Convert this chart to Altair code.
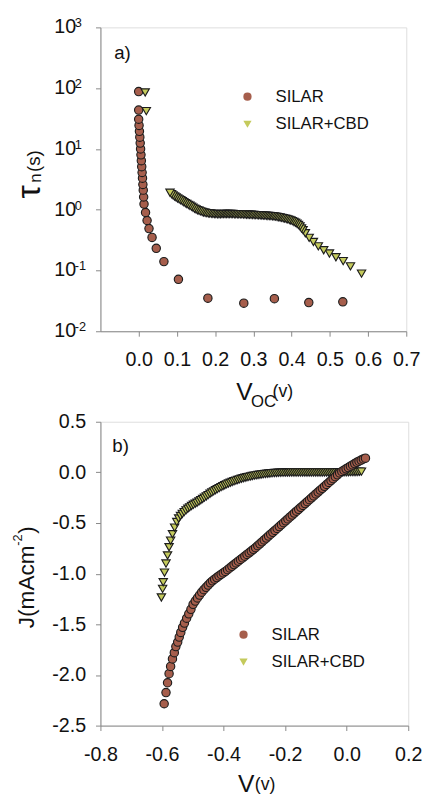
import altair as alt
import pandas as pd

FONT = "Liberation Sans"

# ---------------- panel a) : tau_n vs Voc ----------------
a_silar_voc = [0.534, 0.445, 0.355, 0.275, 0.181, 0.104, 0.066, 0.046, 0.035, 0.027,
               0.022, 0.018, 0.014, 0.013, 0.012, 0.011, 0.010, 0.009, 0.008, 0.007,
               0.006, 0.005, 0.004, 0.003, 0.002, 0.001, 0.000, 0.000, 0.000]
a_silar_tau = [0.0305, 0.0297, 0.0344, 0.029, 0.035, 0.0716, 0.140, 0.232, 0.350, 0.489,
               0.665, 0.90, 1.24, 1.62, 2.1, 2.6, 3.3, 4.1, 5.1, 6.4,
               8.0, 10.0, 12.5, 15.6, 19.5, 24.4, 30.8, 43.6, 88.0]

a_cbd_voc = [0.583, 0.554, 0.535, 0.516, 0.499, 0.484, 0.470, 0.457, 0.446, 0.436,
             0.430, 0.426, 0.422, 0.418, 0.414, 0.410, 0.406, 0.402, 0.398, 0.394,
             0.390, 0.386, 0.382, 0.378, 0.374, 0.370, 0.366, 0.362, 0.358, 0.354,
             0.350, 0.346, 0.342, 0.338, 0.334, 0.330, 0.326, 0.322, 0.318, 0.314,
             0.310, 0.306, 0.302, 0.298, 0.294, 0.290, 0.286, 0.282, 0.278, 0.274,
             0.270, 0.266, 0.262, 0.258, 0.254, 0.250, 0.246, 0.242, 0.238, 0.234,
             0.230, 0.226, 0.222, 0.218, 0.214, 0.210, 0.206, 0.202, 0.198, 0.194,
             0.190, 0.186, 0.182, 0.178, 0.174, 0.170, 0.166, 0.162, 0.158, 0.154,
             0.150, 0.146, 0.142, 0.138, 0.134, 0.130, 0.126, 0.122, 0.118, 0.114,
             0.110, 0.106, 0.102, 0.098, 0.094, 0.090, 0.086, 0.082, 0.020, 0.017]
a_cbd_tau = [0.089, 0.117, 0.143, 0.165, 0.190, 0.215, 0.250, 0.295, 0.345, 0.41,
             0.46, 0.49, 0.53, 0.56, 0.59, 0.61, 0.63, 0.65, 0.665, 0.68,
             0.695, 0.705, 0.715, 0.725, 0.735, 0.745, 0.755, 0.76, 0.77, 0.775,
             0.78, 0.785, 0.79, 0.79, 0.795, 0.80, 0.80, 0.805, 0.81, 0.81,
             0.815, 0.815, 0.82, 0.82, 0.825, 0.825, 0.83, 0.83, 0.835, 0.835,
             0.84, 0.84, 0.84, 0.845, 0.845, 0.845, 0.85, 0.85, 0.85, 0.85,
             0.85, 0.85, 0.85, 0.85, 0.845, 0.845, 0.845, 0.85, 0.85, 0.855,
             0.86, 0.865, 0.87, 0.88, 0.89, 0.90, 0.92, 0.94, 0.96, 0.98,
             1.01, 1.04, 1.08, 1.12, 1.16, 1.20, 1.24, 1.28, 1.33, 1.38,
             1.43, 1.48, 1.53, 1.59, 1.65, 1.72, 1.80, 1.90, 42.0, 85.0]

# ---------------- panel b) : J vs V ----------------
b_silar_v = [-0.593, -0.587, -0.582, -0.577, -0.572, -0.566, -0.560, -0.555, -0.549, -0.544,
             -0.539, -0.533, -0.527, -0.520, -0.513, -0.506, -0.499, -0.492, -0.485, -0.478,
             -0.471, -0.464, -0.457, -0.450, -0.443, -0.436, -0.429, -0.422, -0.415, -0.408,
             -0.401, -0.394, -0.387, -0.380, -0.373, -0.366, -0.359, -0.352, -0.345, -0.338,
             -0.331, -0.324, -0.317, -0.310, -0.303, -0.296, -0.289, -0.282, -0.275, -0.268,
             -0.261, -0.254, -0.247, -0.240, -0.233, -0.226, -0.219, -0.212, -0.205, -0.198,
             -0.191, -0.184, -0.177, -0.170, -0.163, -0.156, -0.149, -0.142, -0.135, -0.128,
             -0.121, -0.114, -0.107, -0.100, -0.093, -0.086, -0.079, -0.072, -0.065, -0.058,
             -0.051, -0.044, -0.037, -0.030, -0.023, -0.016, -0.009, -0.002, 0.005, 0.012,
             0.019, 0.026, 0.033, 0.040, 0.047, 0.054, 0.061]
b_silar_j = [-2.284, -2.174, -2.077, -1.987, -1.916, -1.842, -1.780, -1.720, -1.675, -1.626,
             -1.580, -1.530, -1.488, -1.440, -1.396, -1.352, -1.303, -1.270, -1.240, -1.211,
             -1.183, -1.158, -1.135, -1.112, -1.090, -1.071, -1.054, -1.038, -1.022, -1.007,
             -0.993, -0.978, -0.961, -0.944, -0.927, -0.910, -0.894, -0.877, -0.860, -0.844,
             -0.827, -0.810, -0.794, -0.777, -0.760, -0.743, -0.724, -0.705, -0.686, -0.667,
             -0.648, -0.629, -0.610, -0.592, -0.573, -0.554, -0.535, -0.516, -0.497, -0.478,
             -0.459, -0.440, -0.421, -0.402, -0.383, -0.365, -0.346, -0.327, -0.308, -0.289,
             -0.270, -0.251, -0.232, -0.213, -0.194, -0.175, -0.157, -0.138, -0.119, -0.100,
             -0.081, -0.062, -0.043, -0.024, -0.005, 0.009, 0.022, 0.035, 0.048, 0.061,
             0.074, 0.087, 0.099, 0.111, 0.122, 0.132, 0.140]

b_cbd_v = [-0.602, -0.598, -0.596, -0.592, -0.587, -0.582, -0.577, -0.572, -0.566, -0.559,
           -0.552, -0.546, -0.540, -0.534, -0.528, -0.522, -0.516, -0.510, -0.504, -0.498,
           -0.492, -0.486, -0.480, -0.474, -0.468, -0.462, -0.456, -0.450, -0.444, -0.438,
           -0.432, -0.426, -0.420, -0.414, -0.408, -0.402, -0.396, -0.390, -0.384, -0.378,
           -0.372, -0.366, -0.360, -0.354, -0.348, -0.342, -0.336, -0.330, -0.324, -0.318,
           -0.312, -0.306, -0.300, -0.294, -0.288, -0.282, -0.276, -0.270, -0.264, -0.258,
           -0.252, -0.246, -0.240, -0.234, -0.228, -0.222, -0.216, -0.210, -0.204, -0.198,
           -0.192, -0.186, -0.180, -0.174, -0.168, -0.162, -0.156, -0.150, -0.144, -0.138,
           -0.132, -0.126, -0.120, -0.114, -0.108, -0.102, -0.096, -0.090, -0.084, -0.078,
           -0.072, -0.066, -0.060, -0.054, -0.048, -0.042, -0.036, -0.030, -0.024, -0.018,
           -0.012, -0.006, 0.000, 0.006, 0.012, 0.018, 0.024, 0.030, 0.036, 0.042, 0.048]
b_cbd_j = [-1.235, -1.150, -1.085, -0.990, -0.900, -0.820, -0.739, -0.674, -0.610, -0.545,
           -0.490, -0.455, -0.430, -0.410, -0.392, -0.375, -0.359, -0.345, -0.332, -0.320,
           -0.309, -0.300, -0.287, -0.274, -0.262, -0.249, -0.237, -0.224, -0.211, -0.199,
           -0.187, -0.176, -0.165, -0.155, -0.145, -0.136, -0.127, -0.118, -0.110, -0.102,
           -0.095, -0.088, -0.081, -0.075, -0.069, -0.063, -0.058, -0.053, -0.048, -0.044,
           -0.040, -0.036, -0.032, -0.029, -0.026, -0.023, -0.020, -0.017, -0.015, -0.013,
           -0.011, -0.009, -0.007, -0.006, -0.005, -0.004, -0.003, -0.002, -0.002, -0.001,
           -0.001, -0.001, 0.000, 0.000, 0.000, 0.000, 0.000, 0.000, 0.000, 0.000,
           0.000, 0.000, 0.000, 0.000, 0.000, 0.000, 0.000, 0.000, 0.000, 0.000,
           0.000, 0.000, 0.000, 0.000, 0.000, 0.000, 0.000, 0.001, 0.001, 0.001,
           0.001, 0.002, 0.002, 0.002, 0.003, 0.003, 0.004, 0.004, 0.005, 0.006, 0.008]

series_names = ["SILAR", "SILAR+CBD"]
fill_colors = ["#a65e4c", "#c4ca5c"]
marker_shapes = ["circle", "triangle-down"]

a_x_ticks = [0.0, 0.1, 0.2, 0.3, 0.4, 0.5, 0.6, 0.7]
a_y_ticks = [0.01, 0.1, 1, 10, 100, 1000]
a_y_exps = ["-2", "-1", "0", "1", "2", "3"]
b_x_ticks = [-0.8, -0.6, -0.4, -0.2, 0.0, 0.2]
b_y_ticks = [0.5, 0.0, -0.5, -1.0, -1.5, -2.0, -2.5]

# ---------------- tables ----------------
df_a = pd.concat([
    pd.DataFrame({"x": a_silar_voc, "y": a_silar_tau, "series": series_names[0]}),
    pd.DataFrame({"x": a_cbd_voc, "y": a_cbd_tau, "series": series_names[1]}),
], ignore_index=True)
df_a["k"] = range(len(df_a))
df_b = pd.concat([
    pd.DataFrame({"x": b_cbd_v, "y": b_cbd_j, "series": series_names[1]}),
    pd.DataFrame({"x": b_silar_v, "y": b_silar_j, "series": series_names[0]}),
], ignore_index=True)
df_b["k"] = range(len(df_b))
df_ay = pd.DataFrame({"y": a_y_ticks, "e": a_y_exps})

W_A, H_A = 311, 309
W_B, H_B = 313, 309

color_scale = alt.Scale(domain=series_names, range=fill_colors)
shape_scale = alt.Scale(domain=series_names, range=marker_shapes)


def legend(x, y):
    return alt.Legend(orient="none", legendX=x, legendY=y, title=None,
                      labelFont=FONT, labelFontSize=17, labelColor="#111",
                      symbolSize=70, symbolStrokeColor="#222", symbolStrokeWidth=1,
                      symbolOpacity=1, rowPadding=10, labelOffset=20, padding=0)


def txt(s, x, y, size, angle=0, align="left"):
    return alt.Chart(pd.DataFrame({"t": [s]})).mark_text(
        font=FONT, fontSize=size, color="#111", align=align, baseline="alphabetic",
        angle=angle, text=s
    ).encode(x=alt.value(x), y=alt.value(y))


# ---------------- panel a ----------------
ax_xa = alt.Axis(values=a_x_ticks, format=".1f", title=None, grid=False,
                 labelFontSize=20, labelFont=FONT, labelColor="#111", tickSize=5,
                 labelPadding=14, labelFlush=False)
ax_ya = alt.Axis(values=a_y_ticks, labels=False, title=None, grid=False, tickSize=5)
xs_a = alt.Scale(domain=[-0.1, 0.7], nice=False, zero=False)
ys_a = alt.Scale(type="log", domain=[0.01, 1000], nice=False)

pts_a = alt.Chart(df_a).mark_point(filled=True, size=72, stroke="#1c1c1c",
                                   strokeWidth=1.15, opacity=1).encode(
    x=alt.X("x:Q", scale=xs_a, axis=ax_xa),
    y=alt.Y("y:Q", scale=ys_a, axis=ax_ya),
    color=alt.Color("series:N", scale=color_scale, legend=legend(141, 62)),
    shape=alt.Shape("series:N", scale=shape_scale, legend=legend(141, 62)),
    order=alt.Order("k:Q"),
)
ten_a = alt.Chart(df_ay).mark_text(font=FONT, fontSize=20, color="#111", align="left",
                                   baseline="middle", text="10").encode(
    x=alt.value(-47), y=alt.Y("y:Q", scale=ys_a, axis=ax_ya))
exp_a = alt.Chart(df_ay).mark_text(font=FONT, fontSize=13, color="#111", align="left",
                                   baseline="middle", dy=-4).encode(
    x=alt.value(-26), y=alt.Y("y:Q", scale=ys_a, axis=ax_ya), text="e:N")

panel_a = alt.layer(
    pts_a, ten_a, exp_a,
    txt("a)", 14, 32, 19),
    txt("V", 138, 379, 25), txt("OC", 153, 386, 17), txt("(v)", 175, 376, 18),
    txt("τ", -61, 174, 34, angle=270), txt("n", -60, 158, 17, angle=270),
    txt("(s)", -61, 147, 19, angle=270),
).properties(width=W_A, height=H_A)

# ---------------- panel b ----------------
ax_xb = alt.Axis(values=b_x_ticks, title=None, grid=False,
                 labelExpr="replace(format(datum.value, '.1f'), '\u2212', '-')",
                 labelFontSize=20, labelFont=FONT, labelColor="#111", tickSize=5,
                 labelPadding=14, labelFlush=False)
ax_yb = alt.Axis(values=b_y_ticks, title=None, grid=False,
                 labelExpr="replace(format(datum.value, '.1f'), '\u2212', '-')",
                 labelFontSize=20, labelFont=FONT, labelColor="#111", tickSize=5,
                 labelPadding=10)
xs_b = alt.Scale(domain=[-0.8, 0.2], nice=False, zero=False)
ys_b = alt.Scale(domain=[-2.5, 0.5], nice=False, zero=False)

pts_b = alt.Chart(df_b).mark_point(filled=True, size=72, stroke="#1c1c1c",
                                   strokeWidth=1.15, opacity=1).encode(
    x=alt.X("x:Q", scale=xs_b, axis=ax_xb),
    y=alt.Y("y:Q", scale=ys_b, axis=ax_yb),
    color=alt.Color("series:N", scale=color_scale, legend=legend(137, 208)),
    shape=alt.Shape("series:N", scale=shape_scale, legend=legend(137, 208)),
    order=alt.Order("k:Q"),
)

panel_b = alt.layer(
    pts_b,
    txt("b)", 12, 31, 19),
    txt("V", 140, 377, 25), txt("(v)", 157, 374, 18),
    txt("J(mAcm", -68, 210, 23, angle=270), txt("-2", -80, 126, 13, angle=270),
    txt(")", -68, 114, 23, angle=270),
).properties(width=W_B, height=H_B)

chart = alt.vconcat(panel_a, panel_b, spacing=92, bounds="flush").resolve_legend(
    color="independent", shape="independent"
).properties(
    padding={"left": 3, "top": 2, "right": 0, "bottom": 0}
).configure_view(stroke="#555", strokeWidth=1).configure_axis(
    domainColor="#555", tickColor="#555", domainWidth=1, tickWidth=1
).configure(background="white")

chart.save("out.html", embed_options={"renderer": "svg", "actions": False})
